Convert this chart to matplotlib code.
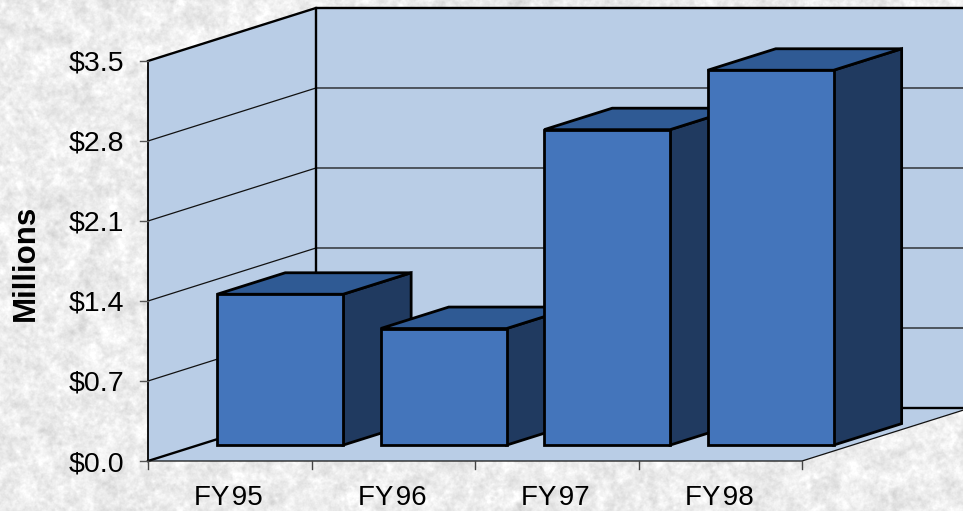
"""
3D style column chart, FY95 - FY98, on a mottled paper background.
"""

import numpy as np
import matplotlib
matplotlib.use('Agg')
import matplotlib.pyplot as plt
from matplotlib.patches import Polygon

categories = ['FY\u200a95', 'FY\u200a96', 'FY\u200a97', 'FY\u200a98']
values = [1.32, 1.02, 2.76, 3.28]
y_ticks = [0.0, 0.7, 1.4, 2.1, 2.8, 3.5]

WALL = '#B9CDE6'
FRONT = '#4475BB'
TOP = '#2F5A94'
SIDE = '#203A60'

# one full depth of the box, in category / value units
DEPTH_X = 1.0275
DEPTH_Y = 0.4637
BAR_WIDTH = 0.77
BAR_NEAR = 0.30
BAR_FAR = 0.705

plt.rcParams['font.family'] = ['Liberation Sans', 'DejaVu Sans']


def project(x, y, depth=0.0):
    """Moves a front plane point back into the box"""
    return (x + depth * DEPTH_X, y + depth * DEPTH_Y)


def paper_texture(h, w):
    """Soft grey mottling for the background, decoration only"""
    rng = np.random.default_rng(7)
    fy = np.fft.fftfreq(h)[:, None]
    fx = np.fft.rfftfreq(w)[None, :]
    f = np.sqrt(fx ** 2 + fy ** 2)
    out = np.zeros((h, w))
    for scale, weight in [(0.05, 0.8), (0.15, 0.8), (0.4, 0.35)]:
        noise = np.fft.irfft2(np.fft.rfft2(rng.normal(size=(h, w))) * np.exp(-(f / scale) ** 2), s=(h, w))
        out += weight * noise / noise.std()
    out = out / out.std()
    return np.clip(237 + 7 * out, 200, 255) / 255.0


def box_face(ax, points, color, lw=2.0, z=2):
    ax.add_patch(Polygon(points, closed=True, facecolor=color, edgecolor='black',
                         linewidth=lw, joinstyle='miter', zorder=z))


fig = plt.figure(figsize=(9.63, 5.11), dpi=100)
tex = paper_texture(511, 963)
fig.figimage(np.dstack([tex, tex, tex]), 0, 0, zorder=-1)

ax = fig.add_axes([0, 0, 1, 1])
ax.patch.set_visible(False)
ax.set_axis_off()
ax.set_xlim(-148 / 163.5, (963 - 148) / 163.5)
ax.set_ylim(-50 / 114.29, 461 / 114.29)

n = len(categories)
top = y_ticks[-1]

# walls and floor
ax.add_patch(Polygon([project(0, 0), project(0, top), project(0, top, 1), project(0, 0, 1)],
                     facecolor=WALL, edgecolor='none', zorder=1))
ax.add_patch(Polygon([project(0, 0, 1), project(0, top, 1), project(n, top, 1), project(n, 0, 1)],
                     facecolor=WALL, edgecolor='none', zorder=1))
ax.add_patch(Polygon([project(0, 0), project(n, 0), project(n, 0, 1), project(0, 0, 1)],
                     facecolor=WALL, edgecolor='none', zorder=1))

# gridlines on side wall and back wall
for tick in y_ticks[1:-1]:
    x1, y1 = project(0, tick)
    x2, y2 = project(0, tick, 1)
    x3, y3 = project(n, tick, 1)
    ax.plot([x1, x2, x3], [y1, y2, y3], color='#111111', linewidth=0.9, zorder=1.5)

# box edges
x1, y1 = project(0, 0)
x2, y2 = project(0, top)
x3, y3 = project(0, top, 1)
x4, y4 = project(0, 0, 1)
x5, y5 = project(n, top, 1)
x6, y6 = project(n, 0, 1)
x7, y7 = project(n, 0)
ax.plot([x1, x2], [y1, y2], color='black', linewidth=1.3, zorder=1.6)
ax.plot([x2, x3, x5], [y2, y3, y5], color='black', linewidth=1.7, zorder=1.6)
ax.plot([x3, x4], [y3, y4], color='black', linewidth=1.7, zorder=1.6)
ax.plot([x1, x4, x6], [y1, y4, y6], color='black', linewidth=1.7, zorder=1.6)
ax.plot([x1, x7, x6], [y1, y7, y6], color='#111111', linewidth=0.9, zorder=1.6)

# bars, left to right so the later ones cover the earlier ones
for i, val in enumerate(values):
    left = i + 0.5 - BAR_WIDTH / 2
    right = i + 0.5 + BAR_WIDTH / 2
    z = 2 + i
    box_face(ax, [project(right, 0, BAR_NEAR), project(right, 0, BAR_FAR),
                  project(right, val, BAR_FAR), project(right, val, BAR_NEAR)], SIDE, z=z)
    box_face(ax, [project(left, val, BAR_NEAR), project(right, val, BAR_NEAR),
                  project(right, val, BAR_FAR), project(left, val, BAR_FAR)], TOP, z=z)
    bx1, by1 = project(left, 0, BAR_NEAR)
    bx2, by2 = project(right, val, BAR_NEAR)
    box_face(ax, [(bx1, by1), (bx2, by1), (bx2, by2), (bx1, by2)], FRONT, z=z)

# ticks and labels
for tick in y_ticks:
    ax.plot([-8 / 163.5, 0], [tick, tick], color='#555555', linewidth=1.0, zorder=1.6)
    ax.text(-24 / 163.5, tick, f'${tick:.1f}', ha='right', va='center_baseline',
            fontsize=20.5, color='black')

for i in range(n + 1):
    ax.plot([i, i], [0, -8 / 114.29], color='#444444', linewidth=1.0, zorder=1.6)

for i, name in enumerate(categories):
    ax.text(i + 0.5 - 1 / 163.5, -34 / 114.29, name, ha='center', va='center_baseline',
            fontsize=20, color='black')

ax.text(-122 / 163.5, 1.73, 'Millions', rotation=90, ha='center', va='center',
        fontsize=22.5, fontweight='bold', color='black')

fig.savefig('out.png', dpi=100)
